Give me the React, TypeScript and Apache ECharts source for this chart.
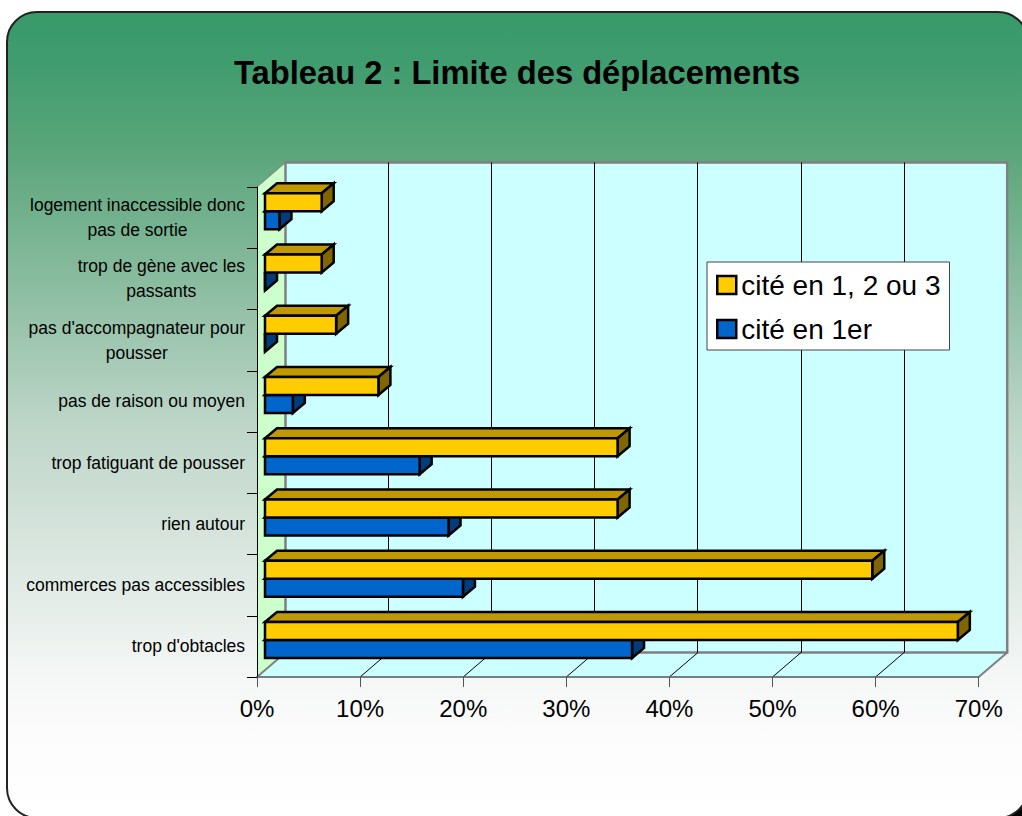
import React, { useEffect, useRef } from "react";
import * as echarts from "echarts";

const titleText = "Tableau 2 : Limite des déplacements";
const categories = [
  "logement inaccessible donc\npas de sortie",
  "trop de gène avec les\npassants",
  "pas d'accompagnateur pour\npousser",
  "pas de raison ou moyen",
  "trop fatiguant de pousser",
  "rien autour",
  "commerces pas accessibles",
  "trop d'obtacles",
];
const seriesAllName = "cité en 1, 2 ou 3";
const seriesFirstName = "cité en 1er";
const citedAny = [5.5, 5.5, 6.9, 11, 34.2, 34.2, 58.9, 67.2];
const citedFirst = [1.4, 0, 0, 2.7, 15, 17.8, 19.2, 35.6];
const xTicks = [10, 20, 30, 40, 50, 60];

const FONT = "'Liberation Sans', Arial, sans-serif";
const WALL_DX = 28.5;
const WALL_DY = -24.5;
const BAR_OFFSET_X = 8;
const BAR_OFFSET_Y = -6.4;
const BAR_H = 18;
const BAR_DX = 12;
const BAR_DY = -10;
const GREY = "#808080";

const H = 806;
const stop = (y: number, color: string) => ({ offset: (y - 12) / H, color });

function renderWalls(params: any, api: any) {
  const c = params.coordSys;
  const l = c.x, r = c.x + c.width, t = c.y, b = c.y + c.height;
  const d = WALL_DX, e = WALL_DY;
  const greyStyle = { stroke: GREY, lineWidth: 2.5, fill: "none" };
  return {
    type: "group",
    silent: true,
    children: [
      { type: "polygon", shape: { points: [[l + d, t + e], [r + d, t + e], [r + d, b + e], [l + d, b + e]] }, style: { fill: "#ccffff", stroke: "none" } },
      { type: "polygon", shape: { points: [[l, t], [l + d, t + e], [l + d, b + e], [l, b]] }, style: { fill: "#ccffcc", stroke: "none" } },
      { type: "polygon", shape: { points: [[l, b], [r, b], [r + d, b + e], [l + d, b + e]] }, style: { fill: "#ccffff", stroke: "none" } },
      { type: "polyline", shape: { points: [[l + d, b + e], [l + d, t + e], [r + d, t + e], [r + d, b + e], [l + d, b + e]] }, style: greyStyle },
      { type: "line", shape: { x1: l, y1: t, x2: l + d, y2: t + e }, style: { stroke: GREY, lineWidth: 1 } },
      { type: "line", shape: { x1: l, y1: b, x2: l + d, y2: b + e }, style: { stroke: GREY, lineWidth: 2 } },
      { type: "line", shape: { x1: r, y1: b, x2: r + d, y2: b + e }, style: { stroke: GREY, lineWidth: 2 } },
    ],
  };
}

function renderGridLine(params: any, api: any) {
  const c = params.coordSys;
  const b = c.y + c.height;
  const x = api.coord([api.value(0), 0])[0];
  const xb = Math.floor(x + WALL_DX) + 0.5;
  const style = { stroke: "#000", lineWidth: 1 };
  return {
    type: "group",
    silent: true,
    children: [
      { type: "line", shape: { x1: xb, y1: c.y + WALL_DY, x2: xb, y2: b + WALL_DY }, style },
      { type: "line", shape: { x1: x, y1: b, x2: x + WALL_DX, y2: b + WALL_DY }, style },
    ],
  };
}

function barRenderer(front: string, top: string, side: string, above: boolean) {
  return (params: any, api: any) => {
    const p0 = api.coord([0, api.value(1)]);
    const p1 = api.coord([api.value(0), api.value(1)]);
    const x0 = p0[0] + BAR_OFFSET_X;
    const x1 = p1[0] + BAR_OFFSET_X;
    const mid = p0[1] + BAR_OFFSET_Y;
    const y0 = above ? mid - BAR_H : mid;
    const y1 = above ? mid : mid + BAR_H;
    const line = { stroke: "#000", lineWidth: 2.5, lineJoin: "miter" };
    return {
      type: "group",
      silent: true,
      children: [
        { type: "polygon", shape: { points: [[x0, y0], [x0 + BAR_DX, y0 + BAR_DY], [x1 + BAR_DX, y0 + BAR_DY], [x1, y0]] }, style: { fill: top, ...line } },
        { type: "polygon", shape: { points: [[x1, y0], [x1 + BAR_DX, y0 + BAR_DY], [x1 + BAR_DX, y1 + BAR_DY], [x1, y1]] }, style: { fill: side, ...line } },
        { type: "polygon", shape: { points: [[x0, y0], [x1, y0], [x1, y1], [x0, y1]] }, style: { fill: front, ...line } },
      ],
    };
  };
}

export default function App() {
  const ref = useRef<HTMLDivElement>(null);
  useEffect(() => {
    const chart = echarts.init(ref.current!, undefined, { renderer: "svg" });
    chart.setOption({
      animation: false,
      backgroundColor: "#ffffff",
      textStyle: { fontFamily: FONT },
      title: {
        text: titleText,
        left: 234,
        top: 56,
        padding: 0,
        textStyle: { fontFamily: FONT, fontSize: 32.7, fontWeight: "bold", color: "#000" },
      },
      legend: {
        data: [seriesAllName, seriesFirstName],
        orient: "vertical",
        left: 707,
        top: 262,
        z: 8,
        padding: [9, 9, 7, 9],
        itemGap: 16,
        itemWidth: 19,
        itemHeight: 18,
        icon: "rect",
        backgroundColor: "#ffffff",
        borderColor: "#444",
        borderWidth: 1,
        borderRadius: 0,
        selectedMode: false,
        itemStyle: { borderColor: "#000", borderWidth: 2.5 },
        textStyle: { fontFamily: FONT, fontSize: 28, color: "#000", padding: [0, 0, 0, 0] },
      },
      grid: { left: 257, top: 187, width: 721.7, height: 490, containLabel: false },
      xAxis: {
        type: "value",
        min: 0,
        max: 70,
        interval: 10,
        z: 3,
        axisLine: { show: true, lineStyle: { color: "#555", width: 1.5 } },
        axisTick: { show: true, length: 10, lineStyle: { color: "#555", width: 1 } },
        splitLine: { show: false },
        axisLabel: { formatter: "{value}%", margin: 19, fontFamily: FONT, fontSize: 24, color: "#000", showMinLabel: true, showMaxLabel: true },
      },
      yAxis: {
        type: "category",
        inverse: true,
        data: categories,
        z: 3,
        axisLine: { show: true, lineStyle: { color: "#000", width: 1 } },
        axisTick: { show: true, length: 10, lineStyle: { color: "#000", width: 1 } },
        axisLabel: {
          margin: 12,
          interval: 0,
          align: "right",
          formatter: (v: string) => v.split("\n").map((s) => `{c|${s}}`).join("\n"),
          rich: { c: { fontFamily: FONT, fontSize: 17.5, color: "#000", lineHeight: 25, align: "center" } },
        },
      },
      graphic: {
        elements: [
          { type: "rect", z: -12, silent: true, shape: { x: 985, y: 775, width: 40, height: 44 }, style: { fill: "#000" } },
          {
            type: "rect",
            z: -10,
            silent: true,
            shape: { x: 7, y: 12, width: 1021, height: 806, r: 30 },
            style: {
              stroke: "#222",
              lineWidth: 2,
              fill: new echarts.graphic.LinearGradient(0, 0, 0, 1, [
                stop(12, "#389969"),
                stop(60, "#3f9c6e"),
                stop(150, "#5aa57a"),
                stop(430, "#bfd6c9"),
                stop(680, "#f5f7f6"),
                stop(740, "#fcfcfc"),
                stop(818, "#ffffff"),
              ]),
            },
          },
        ],
      },
      series: [
        { type: "custom", name: "walls", z: 1, silent: true, renderItem: renderWalls, data: [[0, 0]], encode: { x: 0, y: 1 } },
        { type: "custom", name: "gridlines", z: 2, silent: true, renderItem: renderGridLine, data: xTicks.map((t) => [t, 0]), encode: { x: 0, y: 1 } },
        {
          type: "custom",
          name: seriesFirstName,
          z: 4,
          renderItem: barRenderer("#0066cc", "#0055aa", "#003d7a", false),
          itemStyle: { color: "#0066cc" },
          data: citedFirst.map((v, i) => [v, i]),
          encode: { x: 0, y: 1 },
        },
        {
          type: "custom",
          name: seriesAllName,
          z: 5,
          renderItem: barRenderer("#ffcc00", "#c09900", "#806600", true),
          itemStyle: { color: "#ffcc00" },
          data: citedAny.map((v, i) => [v, i]),
          encode: { x: 0, y: 1 },
        },
      ],
    });
    return () => chart.dispose();
  }, []);
  return <div ref={ref} style={{ position: "absolute", left: 0, top: 0, width: 1022, height: 816, overflow: "hidden" }} />;
}
